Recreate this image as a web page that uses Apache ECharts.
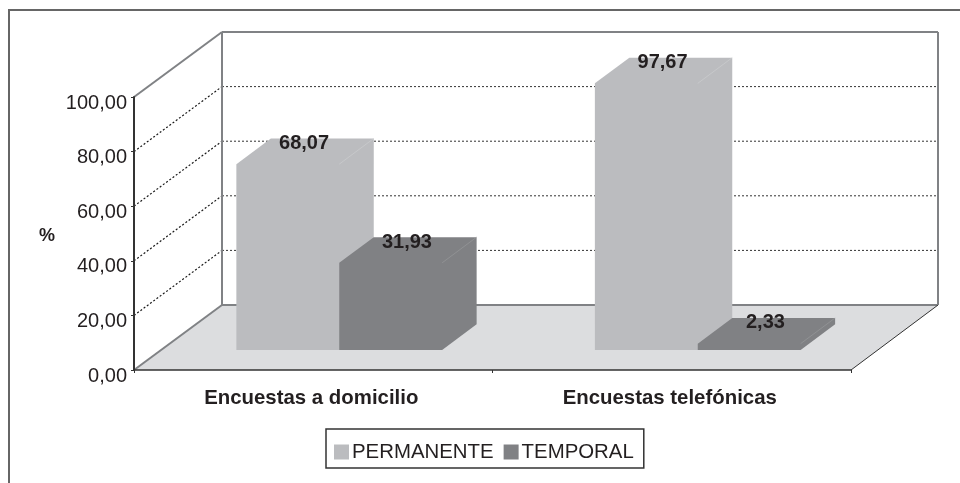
<!DOCTYPE html>
<html>
<head>
<meta charset="utf-8">
<style>html,body{margin:0;padding:0;background:#fff}#c{width:960px;height:483px}</style>
<script src="https://cdn.jsdelivr.net/npm/echarts@6/dist/echarts.min.js"></script>
</head>
<body>
<div id="c"></div>
<script>
const categories = ['Encuestas a domicilio', 'Encuestas telefónicas'];
const seriesNames = ['PERMANENTE', 'TEMPORAL'];
const permanente = [68.07, 97.67];
const temporal = [31.93, 2.33];
const yTicks = [0, 20, 40, 60, 80, 100];

const FONT = '"Liberation Sans", Arial, sans-serif';
const INK = '#231F20';
const colors = ['#BBBCBF', '#808184'];
const edgeColors = ['#CFD0D2', '#9B9C9E'];
const WALL = [88, -65];        // floor depth in px
const BAR_FRONT = [26, -20];   // front of the bars relative to the axis plane
const BAR_DEPTH = [34.5, -25.7];
const BAR_RATIO = 0.287;

const fmt = v => v.toFixed(2).replace('.', ',');

function line(x1, y1, x2, y2, stroke, lineWidth, lineDash) {
  return { type: 'line', shape: { x1, y1, x2, y2 }, style: { stroke, lineWidth, lineDash: lineDash || null, fill: null } };
}
function poly(points, fill) {
  return { type: 'polygon', shape: { points }, style: { fill } };
}

function renderWall(params, api) {
  const v = api.value(0);
  const cs = params.coordSys;
  const x0 = cs.x, x1 = cs.x + cs.width;
  const y = api.coord([0, v])[1];
  const bx0 = x0 + WALL[0], bx1 = x1 + WALL[0] - 1, by = y + WALL[1];
  const grey = '#808285', dark = '#333333';
  const children = [];
  if (v === yTicks[0]) {
    children.push(poly([[x0, y], [bx0, by], [bx1, by], [x1, y]], '#DCDDDF'));
    children.push(line(x0, y, bx0, by, grey, 2));
    children.push(line(bx0, by, bx1, by, grey, 2));
    children.push(line(x1, y, bx1, by, dark, 1));
  } else if (v === yTicks[yTicks.length - 1]) {
    const fy = api.coord([0, 0])[1] + WALL[1];
    children.push(line(x0, y, bx0, by, grey, 2));
    children.push(line(bx0, by, bx1, by, grey, 2));
    children.push(line(bx0, by, bx0, fy, grey, 2));
    children.push(line(bx1, by, bx1, fy, grey, 2));
  } else {
    children.push(line(x0, y, bx0, by, '#1A1A1A', 1.2, [2, 2]));
    children.push(line(bx0, by, bx1, by, dark, 1, [2, 2]));
  }
  return { type: 'group', children };
}

function barRenderer(seriesIdx) {
  return function (params, api) {
    const cat = api.value(0), val = api.value(1);
    const c = api.coord([cat, val]);
    const base = api.coord([cat, 0])[1];
    const w = api.size([1, 0])[0] * BAR_RATIO;
    const xl = c[0] + (seriesIdx - 1) * w + BAR_FRONT[0];
    const xr = xl + w;
    const yb = base + BAR_FRONT[1];
    const yt = c[1] + BAR_FRONT[1];
    const dx = BAR_DEPTH[0], dy = BAR_DEPTH[1];
    const fill = colors[seriesIdx];
    return {
      type: 'group',
      children: [
        poly([[xl, yb], [xl, yt], [xl + dx, yt + dy], [xr + dx, yt + dy], [xr + dx, yb + dy], [xr, yb]], fill),
        line(xr, yt, xr + dx, yt + dy, edgeColors[seriesIdx], 0.6),
        {
          type: 'text',
          style: {
            text: fmt(val),
            x: (xl + xr + dx) / 2 - 1,
            y: yt + dy + 5,
            align: 'center',
            verticalAlign: 'middle',
            fontFamily: FONT,
            fontSize: 20,
            fontWeight: 'bold',
            fill: INK
          }
        }
      ]
    };
  };
}

const toPoints = arr => arr.map((v, i) => [i, v]);

const chart = echarts.init(document.getElementById('c'), null, { renderer: 'canvas' });
chart.setOption({
  animation: false,
  backgroundColor: '#fff',
  graphic: [{
    type: 'rect', z: 0, silent: true,
    shape: { x: 9, y: 10, width: 1000, height: 600 },
    style: { fill: '#fff', stroke: '#666666', lineWidth: 2 }
  }],
  grid: { left: 134, right: 109, top: 97, bottom: 113 },
  legend: {
    data: seriesNames,
    left: 326, top: 429,
    padding: [13, 10, 6, 8],
    itemGap: 10,
    itemWidth: 15, itemHeight: 15,
    icon: 'rect',
    borderColor: '#333333', borderWidth: 1.5,
    backgroundColor: '#fff',
    selectedMode: false,
    textStyle: { fontFamily: FONT, fontSize: 20.4, color: INK, padding: [0, 0, 0, -2] }
  },
  xAxis: {
    type: 'category',
    data: categories,
    z: 10,
    axisLine: { lineStyle: { color: '#333333', width: 1.5 } },
    axisTick: { show: true, alignWithLabel: false, length: 3, lineStyle: { color: '#333333', width: 1 } },
    axisLabel: { margin: 18, fontFamily: FONT, fontSize: 20.4, fontWeight: 'bold', color: INK, padding: [0, 4, 0, 0] },
    splitLine: { show: false }
  },
  yAxis: {
    type: 'value',
    min: 0, max: 100, interval: 20,
    z: 10,
    name: '%',
    nameLocation: 'middle',
    nameRotate: 0,
    nameGap: 79,
    nameTextStyle: { fontFamily: FONT, fontSize: 18, fontWeight: 'bold', color: INK, verticalAlign: 'top', lineHeight: 6 },
    axisLine: { show: true, lineStyle: { color: '#333333', width: 2 } },
    axisTick: { show: true, length: 3, lineStyle: { color: '#333333', width: 1 } },
    axisLabel: { margin: 7, fontFamily: FONT, fontSize: 20, color: INK, verticalAlign: 'top', lineHeight: 12, formatter: v => fmt(v) },
    splitLine: { show: false }
  },
  series: [
    {
      name: 'walls', type: 'custom', z: 1, silent: true, clip: false,
      data: yTicks.map(v => [v]), encode: { y: 0 },
      renderItem: renderWall
    },
    {
      name: seriesNames[0], type: 'custom', z: 2, clip: false,
      itemStyle: { color: colors[0] },
      data: toPoints(permanente), encode: { x: 0, y: 1 },
      renderItem: barRenderer(0)
    },
    {
      name: seriesNames[1], type: 'custom', z: 3, clip: false,
      itemStyle: { color: colors[1] },
      data: toPoints(temporal), encode: { x: 0, y: 1 },
      renderItem: barRenderer(1)
    }
  ]
});
</script>
</body>
</html>
